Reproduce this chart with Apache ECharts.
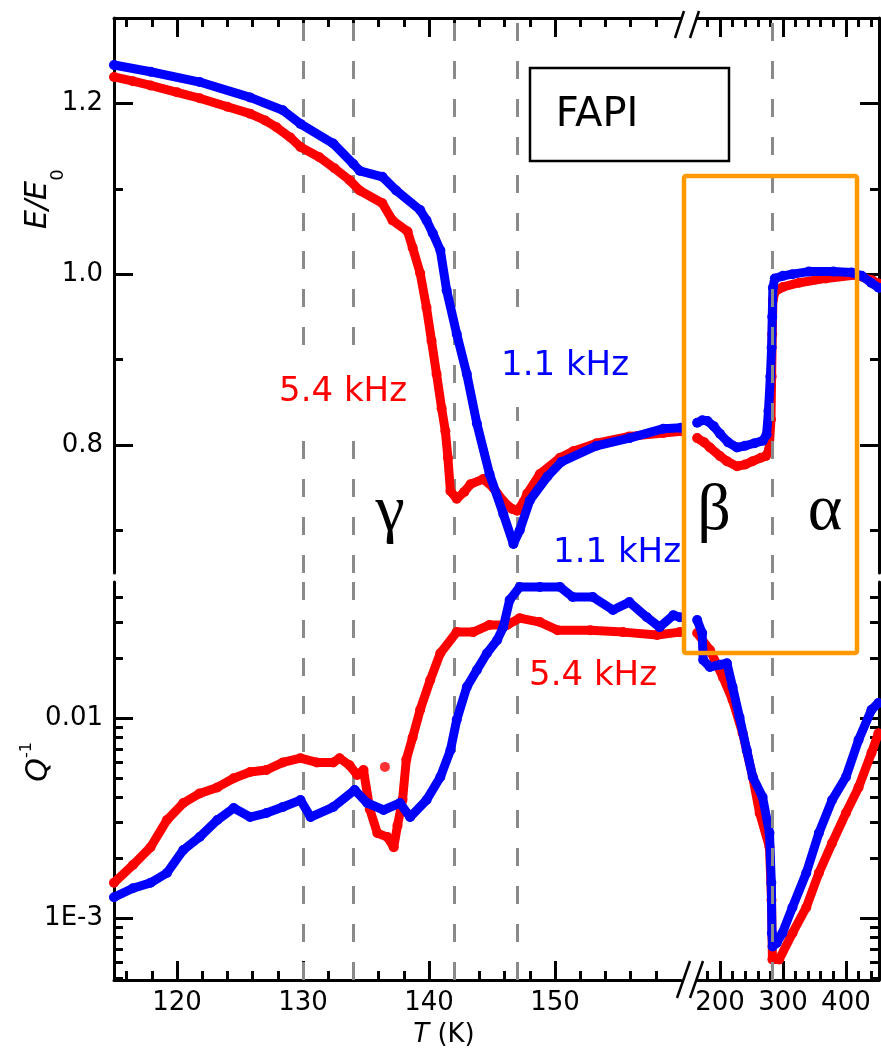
<!DOCTYPE html>
<html><head><meta charset="utf-8">
<script src="https://cdn.jsdelivr.net/npm/echarts@6/dist/echarts.min.js"></script>
<style>html,body{margin:0;padding:0;background:#fff}#c{width:881px;height:1052px}</style>
</head><body><div id="c"></div>
<script>
// ---------------- data ----------------
// E/E0, 5.4 kHz (red), low-T section
const redE_L_T = [115.0,116.5,117.9,120.0,121.8,124.0,125.8,127.0,127.9,129.0,129.8,131.3,132.5,133.7,134.5,136.3,137.1,138.3,138.7,139.3,139.8,140.2,140.6,141.0,141.3,141.5,141.7,142.2,142.8,143.3,144.3,145.1,145.9,146.6,147.0,147.5,147.8,148.8,150.4,151.5,153.3,155.9,158.6,160.0];
const redE_L_V = [1.231,1.226,1.221,1.213,1.206,1.196,1.188,1.180,1.172,1.160,1.149,1.137,1.124,1.110,1.098,1.083,1.063,1.050,1.031,1.001,0.961,0.922,0.883,0.843,0.816,0.785,0.746,0.737,0.745,0.754,0.760,0.750,0.734,0.725,0.723,0.733,0.743,0.766,0.785,0.793,0.802,0.810,0.814,0.816];
// E/E0, 1.1 kHz (blue), low-T section
const bluE_L_T = [115.0,117.9,121.8,125.8,128.4,129.8,132.4,134.0,134.5,136.3,137.4,139.3,139.8,140.3,140.9,141.4,142.2,143.0,143.8,144.8,145.9,146.7,147.2,148.0,149.4,150.5,153.3,155.9,158.6,160.0];
const bluE_L_V = [1.245,1.237,1.225,1.207,1.192,1.176,1.153,1.129,1.121,1.114,1.098,1.075,1.063,1.048,1.028,0.981,0.930,0.883,0.825,0.766,0.719,0.684,0.700,0.735,0.763,0.780,0.799,0.808,0.819,0.820];
// E/E0, high-T section
const redE_R_T = [163.8,175,184,200,211,227,240,252,265,273,278,281,282,283,284,288,300,326,368,415,441,452];
const redE_R_V = [0.808,0.803,0.797,0.787,0.781,0.775,0.777,0.781,0.785,0.787,0.795,0.830,0.880,0.930,0.970,0.980,0.985,0.990,0.995,0.999,0.993,0.989];
const bluE_R_T = [163.8,172,180,190,200,213,227,240,255,268,274,277,280,282,283,284,287,300,315,341,380,409,425,440,452];
const bluE_R_V = [0.826,0.829,0.828,0.822,0.813,0.803,0.797,0.799,0.802,0.805,0.812,0.840,0.880,0.914,0.950,0.984,0.995,0.998,1.000,1.003,1.003,1.002,0.998,0.990,0.984];
// Q^-1, low-T section
const redQ_L_T = [115.0,116.5,117.9,119.2,120.5,121.8,123.2,124.5,125.8,127.1,128.4,129.8,131.1,132.4,132.9,133.7,134.3,134.8,135.3,135.9,136.7,137.2,137.5,137.9,138.2,138.7,139.3,140.1,140.9,142.2,143.5,144.8,146.2,147.2,148.8,150.2,152.8,155.4,158.1,159.9];
const redQ_L_V = [1.50e-3,1.84e-3,2.26e-3,3.09e-3,3.76e-3,4.20e-3,4.50e-3,5.00e-3,5.37e-3,5.50e-3,6.00e-3,6.30e-3,6.00e-3,6.00e-3,6.30e-3,5.80e-3,5.19e-3,5.50e-3,3.50e-3,2.66e-3,2.54e-3,2.26e-3,2.90e-3,3.90e-3,6.20e-3,8.00e-3,0.0110,0.0155,0.0211,0.0269,0.0269,0.0292,0.0292,0.0316,0.0302,0.0275,0.0275,0.0269,0.0260,0.0269];
const redQ_out_T = [136.5];
const redQ_out_V = [5.7e-3];
const bluQ_L_T = [115.0,116.5,117.9,119.2,120.5,121.8,123.2,124.5,125.8,127.1,128.4,129.8,130.6,132.4,134.1,135.1,136.4,137.7,138.5,139.8,140.9,141.7,142.2,143.0,143.8,144.6,145.4,145.9,146.4,147.2,148.8,150.4,151.4,153.0,154.6,155.9,157.3,158.3,159.4,159.9];
const bluQ_L_V = [1.27e-3,1.41e-3,1.50e-3,1.68e-3,2.19e-3,2.54e-3,3.09e-3,3.55e-3,3.20e-3,3.35e-3,3.59e-3,3.89e-3,3.20e-3,3.59e-3,4.37e-3,3.76e-3,3.47e-3,3.76e-3,3.20e-3,3.89e-3,5.07e-3,6.90e-3,9.80e-3,0.0143,0.0174,0.0211,0.0245,0.0285,0.0389,0.0452,0.0452,0.0452,0.0403,0.0403,0.0347,0.0380,0.0319,0.0285,0.0327,0.0319];
// Q^-1, high-T section
const redQ_R_T = [163.8,184,204.7,220,236,252,263,278.6,281.8,283.3,294,315,337,357,378,400,420,440.6,451.6];
const redQ_R_V = [0.0266,0.0219,0.0160,0.0123,8.4e-3,5.07e-3,3.35e-3,2.26e-3,1.23e-3,6.2e-4,6.2e-4,8.4e-4,1.13e-3,1.68e-3,2.37e-3,3.35e-3,4.5e-3,6.7e-3,8.4e-3];
const bluQ_R_T = [163.8,171.7,173.3,184,200,211,220,231,242.5,252,267.6,278.6,281.5,282.5,283.5,290,299,315,337,357,378,400,420,440.6,451.6];
const bluQ_R_V = [0.0309,0.0266,0.0195,0.0180,0.0185,0.0188,0.0143,0.0101,6.9e-3,5.07e-3,4.03e-3,2.66e-3,1.5e-3,8.4e-4,7.2e-4,7.5e-4,8.4e-4,1.13e-3,1.68e-3,2.66e-3,3.89e-3,5.07e-3,7.76e-3,0.0110,0.0119];

// axes / ticks
const tRangeLow = [115, 160];
const tRangeHigh = [163.5, 452.5];
const eRange = [0.65, 1.30];
const qRange = [4.9e-4, 0.0479];
const tMajorLow = [120,130,140,150];
const tMinorLow = [116,118,122,124,126,128,132,134,136,138,142,144,146,148,152,154,156,158];
const tMajorHigh = [200,300,400];
const tMinorHigh = [180,220,240,260,280,320,340,360,380,420,440];
const eMajor = [0.8,1.0,1.2];
const eMinor = [0.7,0.9,1.1];
const qMajor = [0.001,0.01];
const qMinor = [5e-4,6e-4,7e-4,8e-4,9e-4,2e-3,3e-3,4e-3,5e-3,6e-3,7e-3,8e-3,9e-3,0.02,0.03,0.04];
const dashLow = [130,134,142,147];
const dashHigh = [283];

// ---------------- chart ----------------
const RED = '#ff0000', BLUE = '#0000ff', GRAY = '#8a8a8a', ORANGE = '#ff9900';
const FONT = 'DejaVu Sans';
const zip = (a, b) => a.map((t, i) => [t, b[i]]);
const AXL = {color:'#000', width:3};

function mkAxis(kind, gi, type, range, pos, majors, minors, showLabels, fmt, fs) {
  const base = {type, gridIndex:gi, min:range[0], max:range[1], position:pos,
    splitLine:{show:false}, axisPointer:{show:false}, silent:true};
  if (type === 'log') base.logBase = 10;
  const major = Object.assign({}, base, {
    axisLine:{show:true, onZero:false, lineStyle:AXL},
    axisTick:{show:true, inside:true, length:19, lineStyle:AXL, customValues:majors},
    axisLabel:{show:showLabels, customValues:majors, formatter:fmt, color:'#000',
      fontSize:fs, fontFamily:FONT, margin: kind === 'x' ? 10 : 11}
  });
  const minor = Object.assign({}, base, {
    axisLine:{show:false, onZero:false},
    axisTick:{show:true, inside:true, length:9, lineStyle:AXL, customValues:minors},
    axisLabel:{show:false}
  });
  return [major, minor];
}
const eFmt = v => v.toFixed(1);
const qFmt = v => Math.abs(v - 0.01) < 1e-9 ? '0.01' : '1E-3';
const tFmt = v => String(Math.round(v));

const xAxis = [].concat(
  mkAxis('x', 0, 'value', tRangeLow, 'top', tMajorLow, tMinorLow, false),
  mkAxis('x', 1, 'value', tRangeHigh, 'top', tMajorHigh, tMinorHigh, false),
  mkAxis('x', 2, 'value', tRangeLow, 'bottom', tMajorLow, tMinorLow, true, tFmt, 26),
  mkAxis('x', 3, 'value', tRangeHigh, 'bottom', tMajorHigh, tMinorHigh, true, tFmt, 26)
);
const yAxis = [].concat(
  mkAxis('y', 0, 'value', eRange, 'left', eMajor, eMinor, true, eFmt, 26),
  mkAxis('y', 1, 'value', eRange, 'right', eMajor, eMinor, false),
  mkAxis('y', 2, 'log', qRange, 'left', qMajor, qMinor, true, qFmt, 26),
  mkAxis('y', 3, 'log', qRange, 'right', qMajor, qMinor, false)
);

function curve(name, color, T, V, ax, z) {
  return {type:'line', name, xAxisIndex:ax, yAxisIndex:ax, data:zip(T, V), z,
    symbol:'circle', symbolSize:10, showSymbol:true, color,
    itemStyle:{color}, lineStyle:{color, width:9, join:'round', cap:'round'},
    emphasis:{disabled:true}, silent:true, animation:false};
}
function guides(vals, ax, z) {
  return {type:'line', xAxisIndex:ax, yAxisIndex:ax, data:[], silent:true,
    markLine:{z, silent:true, symbol:['none','none'], label:{show:false}, animation:false,
      lineStyle:{color:GRAY, width:3, type:[18,20]}, emphasis:{disabled:true},
      data: vals.map(v => ({xAxis:v}))}};
}

const series = [
  guides(dashLow, 0, 1), guides(dashLow, 4, 1),
  guides(dashHigh, 2, 8), guides(dashHigh, 6, 8),
  curve('5.4 kHz', RED, redE_L_T, redE_L_V, 0, 4),
  curve('5.4 kHz', RED, redE_R_T, redE_R_V, 2, 4),
  curve('5.4 kHz', RED, redQ_L_T, redQ_L_V, 4, 4),
  curve('5.4 kHz', RED, redQ_R_T, redQ_R_V, 6, 4),
  {type:'scatter', xAxisIndex:4, yAxisIndex:4, data:zip(redQ_out_T, redQ_out_V), symbolSize:10,
    itemStyle:{color:RED}, z:4, silent:true},
  curve('1.1 kHz', BLUE, bluE_L_T, bluE_L_V, 0, 5),
  curve('1.1 kHz', BLUE, bluE_R_T, bluE_R_V, 2, 5),
  curve('1.1 kHz', BLUE, bluQ_L_T, bluQ_L_V, 4, 5),
  curve('1.1 kHz', BLUE, bluQ_R_T, bluQ_R_V, 6, 5)
];

function txt(x, y, text, o) {
  return {type:'text', x, y, z:o.z || 3, zlevel:0, silent:true, rotation:o.rot || 0,
    style:Object.assign({text, fill:o.fill || '#000', fontSize:o.fs, fontFamily:o.ff || FONT,
      fontStyle:o.it ? 'italic' : 'normal', align:o.align || 'center', verticalAlign:'middle'}, o.extra || {})};
}
const graphic = [
  {type:'rect', z:3, silent:true, shape:{x:530, y:68, width:199, height:93}, style:{fill:'#fff', stroke:'#000', lineWidth:2.5}},
  txt(597, 116, 'FAPI', {fs:40}),
  {type:'rect', z:20, silent:true, shape:{x:684, y:176, width:173, height:477, r:2}, style:{fill:'none', stroke:ORANGE, lineWidth:4.5}},
  txt(343, 392, '5.4 kHz', {fs:34, fill:RED, extra:{backgroundColor:'#fff', padding:[21,3]}}),
  txt(565, 366, '1.1 kHz', {fs:34, fill:BLUE, extra:{backgroundColor:'#fff', padding:[24,3]}}),
  txt(617, 553, '1.1 kHz', {fs:34, fill:BLUE}),
  txt(593, 676, '5.4 kHz', {fs:34, fill:RED}),
  txt(390, 513, 'γ', {fs:66, ff:'Liberation Serif'}),
  txt(714, 512, 'β', {fs:66, ff:'Liberation Serif'}),
  txt(825, 512, 'α', {fs:66, ff:'Liberation Serif'}),
  txt(38, 205, 'E/E', {fs:30, it:true, rot:Math.PI/2}),
  txt(58, 175, '0', {fs:18, rot:Math.PI/2}),
  txt(39, 770, 'Q', {fs:30, it:true, rot:Math.PI/2}),
  txt(27, 750, '-1', {fs:16, rot:Math.PI/2}),
  {type:'text', x:444, y:1035, z:3, silent:true, style:{text:'{i|T} (K)', fill:'#000', fontSize:26, fontFamily:FONT,
    align:'center', verticalAlign:'middle', rich:{i:{fontStyle:'italic', fontSize:26, fontFamily:FONT, fill:'#000'}}}},
  // axis break marks
  {type:'line', z:3, silent:true, shape:{x1:675, y1:38, x2:684, y2:11}, style:{stroke:'#000', lineWidth:2.5}},
  {type:'line', z:3, silent:true, shape:{x1:690, y1:38, x2:699, y2:11}, style:{stroke:'#000', lineWidth:2.5}},
  {type:'line', z:3, silent:true, shape:{x1:677, y1:998, x2:690, y2:961}, style:{stroke:'#000', lineWidth:2.5}},
  {type:'line', z:3, silent:true, shape:{x1:690, y1:998, x2:703, y2:961}, style:{stroke:'#000', lineWidth:2.5}}
];

const chart = echarts.init(document.getElementById('c'), null, {renderer:'canvas'});
chart.setOption({
  animation:false,
  backgroundColor:'#fff',
  grid:[
    {left:114, top:18, width:567, height:555, outerBoundsMode:'none', containLabel:false},
    {left:697, top:18, width:182, height:555, outerBoundsMode:'none', containLabel:false},
    {left:114, top:582, width:567, height:398, outerBoundsMode:'none', containLabel:false},
    {left:697, top:582, width:182, height:398, outerBoundsMode:'none', containLabel:false}
  ],
  xAxis, yAxis, series, graphic
});
</script></body></html>
